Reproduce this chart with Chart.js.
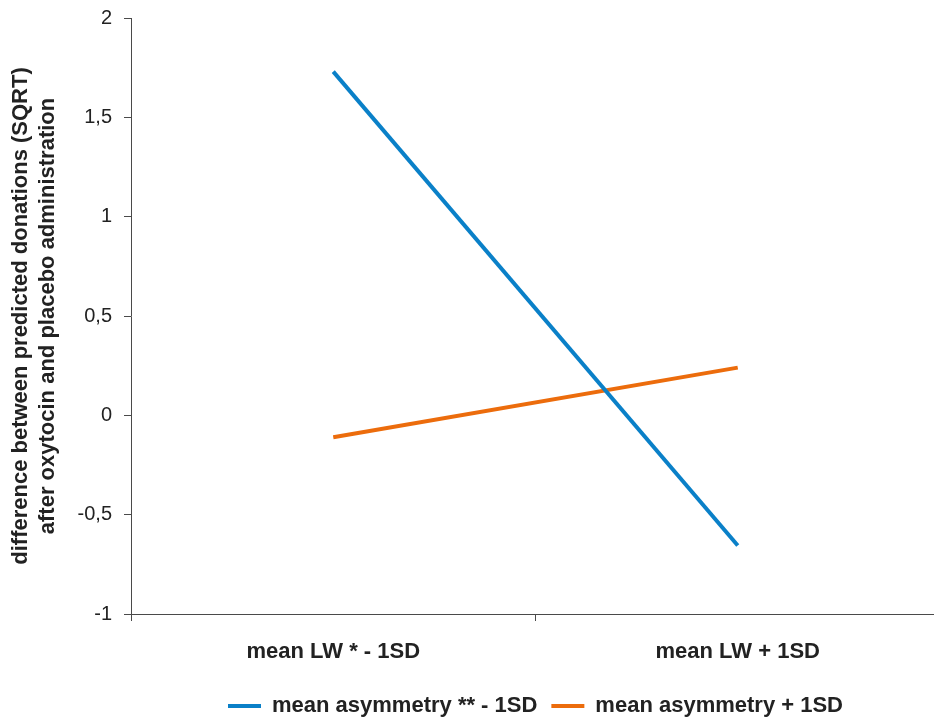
<!DOCTYPE html>
<html>
<head>
<meta charset="utf-8">
<script src="https://cdn.jsdelivr.net/npm/chart.js@4"></script>
<style>
  html, body { margin: 0; padding: 0; background: #fff; overflow: hidden; }
  #wrap { width: 940px; height: 718px; }
</style>
</head>
<body>
<div id="wrap"><canvas id="myChart"></canvas></div>
<script>
const categories = ['mean LW * - 1SD', 'mean LW + 1SD'];
const asymLow = [1.73, -0.655];
const asymHigh = [-0.11, 0.24];
const yTitle = ['difference between predicted donations (SQRT)', 'after oxytocin and placebo administration'];

const axisColor = '#4a4a4a';
const textColor = '#222222';

const ctx = document.getElementById('myChart').getContext('2d');
const myChart = new Chart(ctx, {
    type: 'line',
    data: {
        labels: categories,
        datasets: [{
            label: 'mean asymmetry ** - 1SD',
            data: asymLow,
            borderColor: '#0a80c8',
            backgroundColor: '#0a80c8',
            borderWidth: 4,
            pointRadius: 0,
            tension: 0
        }, {
            label: 'mean asymmetry + 1SD',
            data: asymHigh,
            borderColor: '#ec6c0c',
            backgroundColor: '#ec6c0c',
            borderWidth: 4,
            pointRadius: 0,
            tension: 0
        }]
    },
    options: {
        responsive: true,
        maintainAspectRatio: false,
        animation: false,
        layout: { padding: { top: 18, right: 0, bottom: -9, left: 0 } },
        plugins: {
            tooltip: { enabled: false },
            legend: {
                position: 'bottom',
                fullSize: false,
                labels: {
                    boxWidth: 33,
                    boxHeight: 4,
                    padding: 14,
                    color: textColor,
                    font: { family: 'Liberation Sans', size: 22, weight: 'bold' },
                    generateLabels: (chart) => {
                        const items = Chart.defaults.plugins.legend.labels.generateLabels(chart);
                        items.forEach(it => { it.lineWidth = 0; });
                        return items;
                    }
                }
            }
        },
        scales: {
            x: {
                offset: true,
                grid: {
                    offset: true,
                    drawOnChartArea: false,
                    drawTicks: true,
                    tickLength: 7,
                    color: axisColor
                },
                border: { color: axisColor, width: 1 },
                ticks: {
                    color: textColor,
                    padding: 18,
                    font: { family: 'Liberation Sans', size: 22, weight: 'bold' }
                },
                afterFit: (s) => {
                    s.height = 67;
                    s.paddingLeft = 0;
                    s.paddingRight = 0;
                }
            },
            y: {
                min: -1,
                max: 2,
                grid: {
                    drawOnChartArea: false,
                    drawTicks: true,
                    tickLength: 7,
                    color: axisColor
                },
                border: { color: axisColor, width: 1 },
                ticks: {
                    stepSize: 0.5,
                    color: textColor,
                    padding: 12,
                    font: { family: 'Liberation Sans', size: 20 },
                    callback: (v) => String(v).replace('.', ',')
                },
                title: {
                    display: true,
                    text: yTitle,
                    color: textColor,
                    padding: { top: 8, bottom: 0 },
                    font: { family: 'Liberation Sans', size: 22, weight: 'bold', lineHeight: 1.2 }
                },
                afterFit: (s) => {
                    s.width = 131;
                    s.paddingTop = 0;
                    s.paddingBottom = 0;
                }
            }
        }
    }
});
</script>
</body>
</html>
